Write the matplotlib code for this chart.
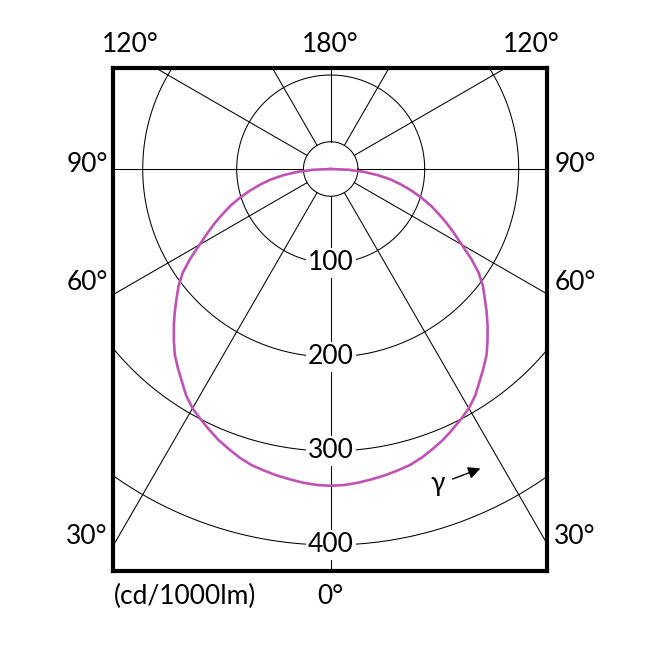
import numpy as np
import matplotlib.pyplot as plt

plt.rcParams['font.family'] = ['Lato', 'DejaVu Sans']

# luminous intensity (cd/1000lm) vs gamma, symmetric about 0
gamma = [0, 2.5, 5, 7.5, 10, 12.5, 15, 17.5, 20, 22.5, 25, 27.5, 30, 32.5, 35, 37.5,
         40, 42.5, 45, 47.5, 50, 52.5, 55, 57.5, 60, 62.5, 65, 67.5, 70, 72.5, 75,
         77.5, 80, 82.5, 85, 87.5, 90]
intensity = [337, 336.5, 335, 333, 331, 328.5, 326, 322, 317, 312, 306, 300, 294, 286,
             276, 267, 258, 247, 236, 225, 214, 204, 192, 177, 161, 148, 136, 124,
             113, 101, 89, 77, 65, 51, 36, 19, 0]

rings = [100, 200, 300, 400]
spokes = list(range(0, 360, 30))
inner_r = 29

W, H = 658, 646
scale = 0.94            # px per cd
cx, cy = 330.7, 169     # centre of the diagram in px
box = (113, 68, 546.7, 570.7)


def to_data(px, py):
    return (px - cx) / scale, (cy - py) / scale


fig = plt.figure(figsize=(W / 100, H / 100), dpi=100)
ax = fig.add_axes([box[0] / W, (H - box[3]) / H, (box[2] - box[0]) / W, (box[3] - box[1]) / H])

t = np.linspace(0, 2 * np.pi, 500)
for r in rings + [inner_r]:
    ax.plot(r * np.cos(t), r * np.sin(t), color='black', lw=0.75, zorder=1)

for a in spokes:
    rad = np.radians(a)
    ax.plot([inner_r * np.sin(rad), 1000 * np.sin(rad)],
            [-inner_r * np.cos(rad), -1000 * np.cos(rad)],
            color='black', lw=0.75, zorder=1)

g = np.radians(np.array([-v for v in gamma[::-1]] + gamma[1:]))
i = np.array(intensity[::-1] + intensity[1:])
ax.plot(i * np.sin(g), -i * np.cos(g), color='#c052b4', lw=1.9, zorder=3,
        solid_joinstyle='round')

for r in rings:
    ax.text(0, -r, str(r), ha='center', va='center', fontsize=19, zorder=4,
            bbox=dict(facecolor='white', edgecolor='none', pad=1.5))

x0, y0 = to_data(box[0], box[3])
x1, y1 = to_data(box[2], box[1])
ax.set_xlim(x0, x1)
ax.set_ylim(y0, y1)
ax.set_xticks([])
ax.set_yticks([])
for s in ax.spines.values():
    s.set_linewidth(3)

# gamma direction arrow
ax.text(*to_data(437.5, 483), 'γ', ha='center', va='center', fontsize=19)
ax.annotate('', xy=to_data(483, 467.5), xytext=to_data(450, 480),
            arrowprops=dict(arrowstyle='-|>', color='black', lw=1, mutation_scale=18))

# angle labels outside the frame
labels = [('120°', 130, 45), ('180°', 330.7, 45), ('120°', 531, 45),
          ('90°', 87, 164), ('90°', 575, 164),
          ('60°', 87, 283), ('60°', 575, 283),
          ('30°', 87, 537), ('30°', 575, 537),
          ('0°', 330.7, 596)]
for s, px, py in labels:
    fig.text(px / W, 1 - py / H, s, ha='center', va='center', fontsize=19)

fig.text(114 / W, 1 - 596 / H, '(cd/1000lm)', ha='left', va='center', fontsize=19)

fig.savefig('out.png', dpi=100)
